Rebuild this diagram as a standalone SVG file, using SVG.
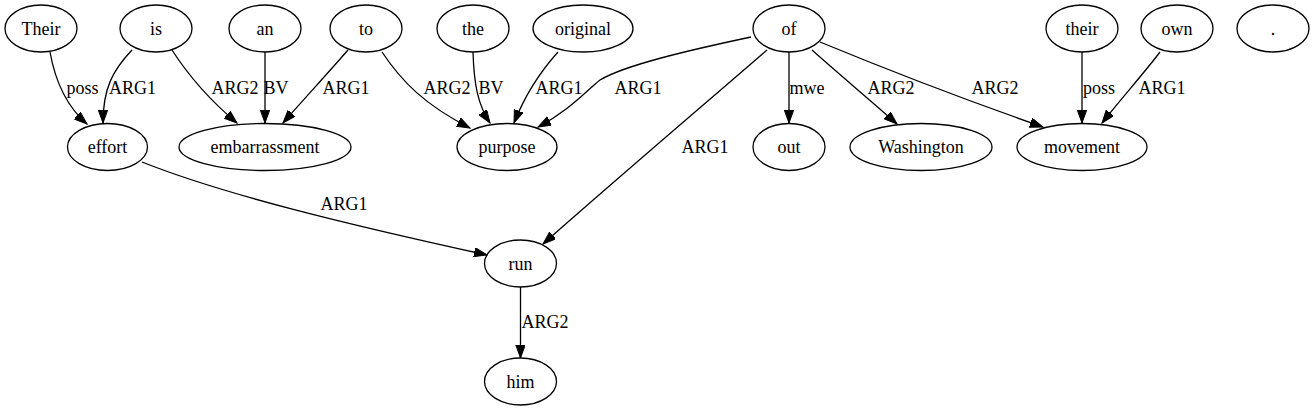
<svg xmlns="http://www.w3.org/2000/svg" width="1315" height="411" viewBox="0 0 1315 411">
<style>
.n ellipse{fill:none;stroke:#000;stroke-width:1.3}
text{font-family:'Liberation Serif','Noto Serif','DejaVu Serif',serif;font-size:18px;fill:#000;text-anchor:middle}
.e path{fill:none;stroke:#000;stroke-width:1.3;marker-end:url(#ah)}
</style>
<defs>
<marker id="ah" markerUnits="userSpaceOnUse" markerWidth="14" markerHeight="10" refX="13" refY="4.7" orient="auto">
<path d="M0,0 L13,4.7 L0,9.4 z" fill="#000" stroke="#000" stroke-width="1"/>
</marker>
</defs>
<rect width="1315" height="411" fill="#fff"/>
<g id="connectors" class="e">
<path d="M50,52 C55,80 65,105 87,124"/>
<path d="M132,50 C113,70 103,88 103,123"/>
<path d="M172,50 C190,78 212,102 237,123"/>
<path d="M265,52 L265,123"/>
<path d="M348,50 C328,73 305,98 283,123"/>
<path d="M382,52 C402,82 425,105 470,128"/>
<path d="M473,52 C474,85 478,105 490,123"/>
<path d="M558,52 C540,72 525,95 514,123"/>
<path d="M751,37 C690,50 625,65 600,80 C585,92 570,110 538,127"/>
<path d="M767,50 C700,108 620,176 543,244"/>
<path d="M789,52 L789,123"/>
<path d="M812,50 C840,75 870,100 897,124"/>
<path d="M820,42 C900,75 980,105 1043,127"/>
<path d="M1082,52 L1082,123"/>
<path d="M1160,52 C1145,72 1120,100 1102,123"/>
<path d="M142,162 C225,195 350,225 487,255"/>
<path d="M520.5,287 L520.5,358"/>
<text x="82.5" y="94">poss</text>
<text x="132.5" y="94">ARG1</text>
<text x="235" y="94">ARG2</text>
<text x="276" y="94">BV</text>
<text x="346" y="94">ARG1</text>
<text x="447" y="94">ARG2</text>
<text x="491" y="94">BV</text>
<text x="559" y="94">ARG1</text>
<text x="638" y="94">ARG1</text>
<text x="705" y="153">ARG1</text>
<text x="807" y="94">mwe</text>
<text x="891" y="94">ARG2</text>
<text x="995" y="94">ARG2</text>
<text x="1099" y="94">poss</text>
<text x="1162" y="94">ARG1</text>
<text x="344" y="210">ARG1</text>
<text x="545" y="328">ARG2</text>
</g>
<g id="Their" class="n"><ellipse cx="41" cy="28.5" rx="36" ry="23.5"/><text x="41" y="34.5">Their</text></g>
<g id="is" class="n"><ellipse cx="156" cy="28.5" rx="36" ry="23.5"/><text x="156" y="34.5">is</text></g>
<g id="an" class="n"><ellipse cx="265" cy="28.5" rx="36" ry="23.5"/><text x="265" y="34.5">an</text></g>
<g id="to" class="n"><ellipse cx="366" cy="28.5" rx="36" ry="23.5"/><text x="366" y="34.5">to</text></g>
<g id="the" class="n"><ellipse cx="473" cy="28.5" rx="36" ry="23.5"/><text x="473" y="34.5">the</text></g>
<g id="original" class="n"><ellipse cx="583" cy="28.5" rx="50" ry="23.5"/><text x="583" y="34.5">original</text></g>
<g id="of" class="n"><ellipse cx="789" cy="28.5" rx="36" ry="23.5"/><text x="789" y="34.5">of</text></g>
<g id="their" class="n"><ellipse cx="1082" cy="28.5" rx="36" ry="23.5"/><text x="1082" y="34.5">their</text></g>
<g id="own" class="n"><ellipse cx="1177" cy="28.5" rx="36" ry="23.5"/><text x="1177" y="34.5">own</text></g>
<g id="period" class="n"><ellipse cx="1273" cy="28.5" rx="36" ry="23.5"/><text x="1273" y="34.5">.</text></g>
<g id="effort" class="n"><ellipse cx="107.5" cy="147" rx="40" ry="23.5"/><text x="107.5" y="153">effort</text></g>
<g id="embarrassment" class="n"><ellipse cx="265" cy="147" rx="86" ry="23.5"/><text x="265" y="153">embarrassment</text></g>
<g id="purpose" class="n"><ellipse cx="507" cy="147" rx="50" ry="23.5"/><text x="507" y="153">purpose</text></g>
<g id="out" class="n"><ellipse cx="789" cy="147" rx="36" ry="23.5"/><text x="789" y="153">out</text></g>
<g id="Washington" class="n"><ellipse cx="921" cy="147" rx="71" ry="23.5"/><text x="921" y="153">Washington</text></g>
<g id="movement" class="n"><ellipse cx="1082" cy="147" rx="65" ry="23.5"/><text x="1082" y="153">movement</text></g>
<g id="run" class="n"><ellipse cx="520.5" cy="263.5" rx="36" ry="23.5"/><text x="520.5" y="269.5">run</text></g>
<g id="him" class="n"><ellipse cx="520.5" cy="381.5" rx="36" ry="23.5"/><text x="520.5" y="387.5">him</text></g>
</svg>
